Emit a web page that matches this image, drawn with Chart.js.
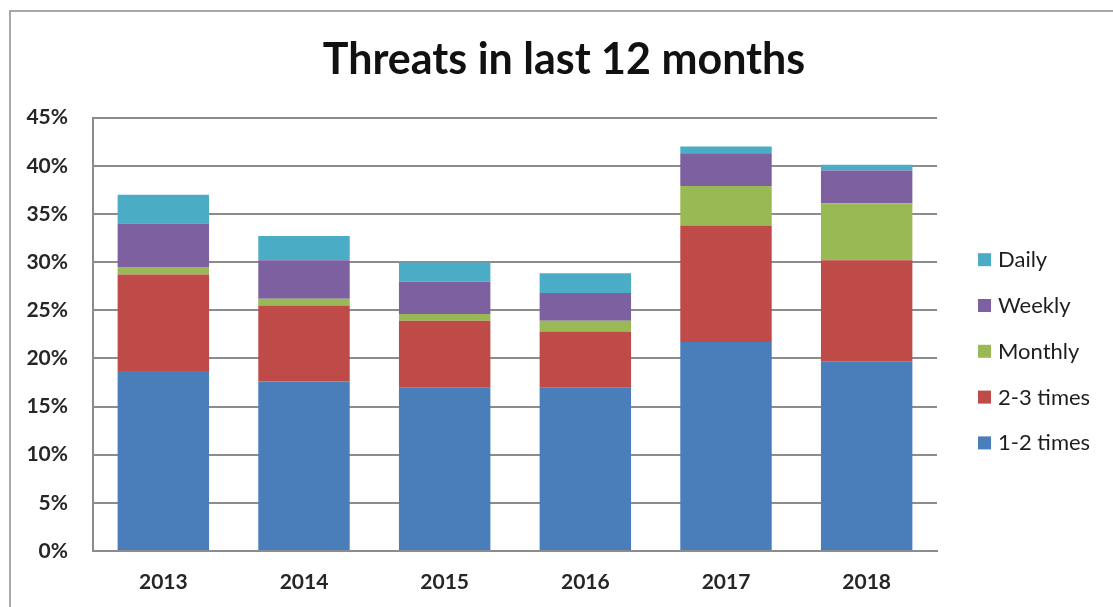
<!DOCTYPE html>
<html lang="en">
<head>
  <meta charset="UTF-8" />
  <title>Threats in last 12 months</title>
  <script src="https://cdn.jsdelivr.net/npm/chart.js"></script>
  <style>
    body {
      margin: 0;
      background: #fff;
      overflow: hidden;
    }

    .wrap {
      position: relative;
      width: 1113px;
      height: 607px;
    }

    .frame {
      position: absolute;
      left: 9px;
      top: 10px;
      right: -10px;
      bottom: -10px;
      border-left: 2px solid #a8a8a8;
      border-top: 2px solid #a8a8a8;
    }

    canvas {
      position: absolute;
      left: 0;
      top: 0;
    }
  </style>
</head>
<body>

  <div class="wrap">
    <div class="frame"></div>
    <canvas id="threatChart" width="1113" height="607"></canvas>
  </div>

  <script>
    const years = ['2013', '2014', '2015', '2016', '2017', '2018'];

    // share of respondents, in percent
    const once12  = [18.7, 17.6, 16.95, 16.95, 21.7, 19.7];
    const times23 = [10.0, 7.9, 6.95, 5.85, 12.1, 10.5];
    const monthly = [0.8, 0.7, 0.7, 1.1, 4.1, 5.9];
    const weekly  = [4.5, 4.0, 3.35, 2.9, 3.4, 3.4];
    const daily   = [3.0, 2.5, 2.0, 2.05, 0.7, 0.6];

    const seriesNames = ['1-2 times', '2-3 times', 'Monthly', 'Weekly', 'Daily'];
    const seriesColors = ['#4a7ebb', '#be4b48', '#98b954', '#7d60a0', '#4bacc6'];

    const gridColor = '#8c8c8c';

    // legend at the right, top item = last dataset
    const sideLegend = {
      id: 'sideLegend',
      afterLayout(chart) {
        // centre the title over the whole canvas, not just the plot + padding
        chart.titleBlock.left = 15;
        chart.titleBlock.right = chart.width;
      },
      afterDraw(chart) {
        const ctx = chart.ctx;
        const area = chart.chartArea;
        const items = chart.data.datasets.slice().reverse();
        const x = area.right + 41;
        const step = 45.8;
        const y0 = (area.top + area.bottom) / 2 + 16.5 - step * (items.length - 1) / 2;
        ctx.save();
        ctx.font = '22px Lato';
        ctx.textBaseline = 'middle';
        items.forEach((ds, i) => {
          const y = y0 + i * step;
          ctx.fillStyle = ds.backgroundColor;
          ctx.fillRect(x, y - 6, 13, 13);
          ctx.fillStyle = '#1e1e1e';
          ctx.fillText(ds.label, x + 20, y + 1);
        });
        ctx.restore();
      }
    };

    const ctx = document.getElementById('threatChart').getContext('2d');
    new Chart(ctx, {
      type: 'bar',
      data: {
        labels: years,
        datasets: [once12, times23, monthly, weekly, daily].map((values, i) => ({
          label: seriesNames[i],
          data: values,
          backgroundColor: seriesColors[i],
          borderWidth: 0,
          categoryPercentage: 0.65,
          barPercentage: 1
        }))
      },
      options: {
        responsive: false,
        animation: false,
        layout: {
          padding: { left: 10, right: 176, top: 0, bottom: 14 }
        },
        plugins: {
          legend: { display: false },
          tooltip: { enabled: false },
          title: {
            display: true,
            text: 'Threats in last 12 months',
            color: '#111',
            font: { family: 'Lato', size: 43, weight: 'bold', lineHeight: 1.2 },
            padding: { top: 34, bottom: 32 }
          }
        },
        scales: {
          x: {
            stacked: true,
            grid: { display: false, drawTicks: false },
            border: { display: true, color: gridColor, width: 2 },
            ticks: {
              color: '#262626',
              padding: 19,
              font: { family: 'Lato', size: 21, weight: 'bold' }
            },
            afterFit(scale) { scale.height = 42; }
          },
          y: {
            stacked: true,
            min: 0,
            max: 45,
            grid: { color: gridColor, lineWidth: 2, drawTicks: false },
            border: { display: true, color: gridColor, width: 2 },
            ticks: {
              stepSize: 5,
              color: '#262626',
              padding: 25,
              font: { family: 'Lato', size: 21, weight: 'bold' },
              callback: v => v + '%'
            },
            afterFit(scale) { scale.width = 83; }
          }
        }
      },
      plugins: [sideLegend]
    });
  </script>

</body>
</html>
